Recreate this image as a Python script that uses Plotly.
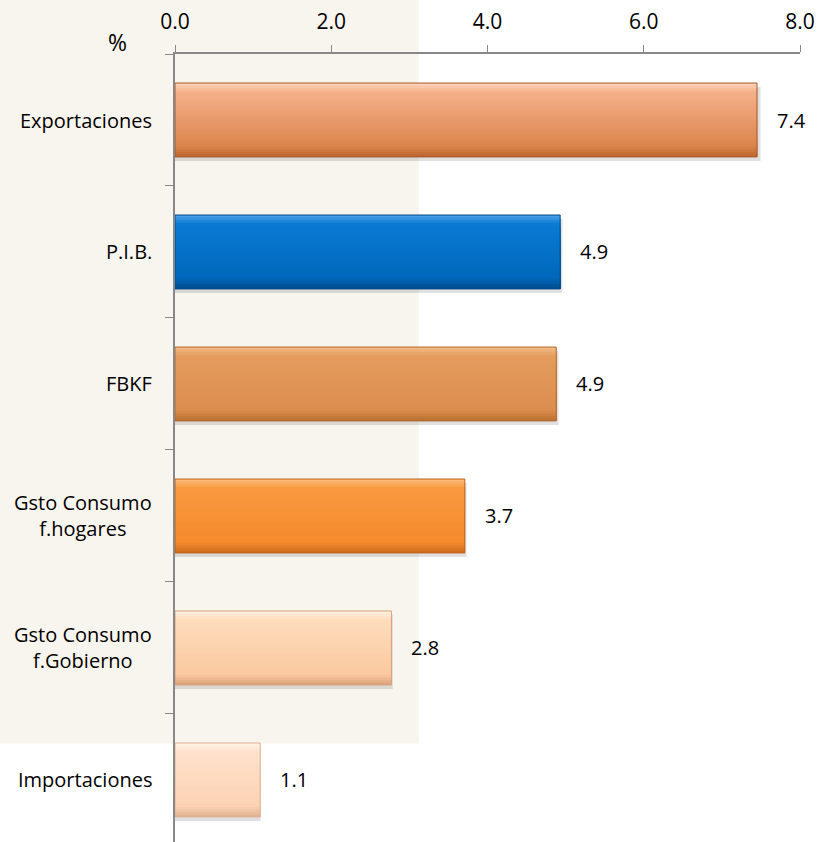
import plotly.graph_objects as go

categories = ["Exportaciones", "P.I.B.", "FBKF", "Gsto Consumo<br>f.hogares",
              "Gsto Consumo<br>f.Gobierno", "Importaciones"]
values = [7.45, 4.93, 4.88, 3.71, 2.77, 1.09]
value_labels = ["7.4", "4.9", "4.9", "3.7", "2.8", "1.1"]
x_ticks = [0, 2, 4, 6, 8]

# per-bar gradient stops (top edge, upper body, lower body, bottom edge)
stops = [
    ["#FCD6BE", "#F5B08A", "#DB844C", "#B9642C"],
    ["#4FA3EA", "#0A7AD4", "#0068BA", "#004C8C"],
    ["#F2BC86", "#E59C5E", "#DB8D4E", "#B8702E"],
    ["#FDBE80", "#F99A40", "#F48A2C", "#C86A1A"],
    ["#FFF0E2", "#FDDCBC", "#FBC9A0", "#D9A07A"],
    ["#FFF3E8", "#FEE2CB", "#FCD2B4", "#DDB090"],
]
edge_cols = ["#A85A2A", "#004A88", "#B56A30", "#BF6118", "#D9A07A", "#DDB090"]
stop_pos = [0.0, 0.12, 0.86, 1.0]

BAR_W = 0.56
N = 30


def hex2rgb(h):
    h = h.lstrip("#")
    return [int(h[i:i + 2], 16) for i in (0, 2, 4)]


def mix(a, b, t):
    ra, rb = hex2rgb(a), hex2rgb(b)
    return "rgb(%d,%d,%d)" % tuple(round(ra[k] + (rb[k] - ra[k]) * t) for k in range(3))


def grad(i, f):
    for k in range(len(stop_pos) - 1):
        if f <= stop_pos[k + 1]:
            t = (f - stop_pos[k]) / (stop_pos[k + 1] - stop_pos[k])
            return mix(stops[i][k], stops[i][k + 1], t)
    return mix(stops[i][-1], stops[i][-1], 0)


fig = go.Figure()

# soft shadow
fig.add_trace(go.Bar(
    y=categories, x=[v * 1.006 for v in values], orientation="h",
    width=BAR_W, offset=-BAR_W / 2 + 0.03,
    marker=dict(color="rgba(0,0,0,0.12)", line=dict(width=0)),
    hoverinfo="skip", showlegend=False))

# gradient strips (each strip extends to the bar bottom, later ones overlap)
for s in range(N):
    f = (s + 0.5) / N
    start = s * BAR_W / N
    fig.add_trace(go.Bar(
        y=categories, x=values, orientation="h",
        width=BAR_W - start, offset=-BAR_W / 2 + start,
        marker=dict(color=[grad(i, f) for i in range(len(values))], line=dict(width=0)),
        hoverinfo="skip", showlegend=False))

# outline
fig.add_trace(go.Bar(
    y=categories, x=values, orientation="h",
    width=BAR_W, offset=-BAR_W / 2,
    marker=dict(color="rgba(0,0,0,0)", line=dict(color=edge_cols, width=1)),
    showlegend=False))

FONT = "'Open Sans', Lato, sans-serif"

# value labels
for c, v, t in zip(categories, values, value_labels):
    fig.add_annotation(x=v, y=c, text=t, showarrow=False, xanchor="left",
                       xshift=18, font=dict(size=20, color="#000000", family=FONT))

# category labels
for c in categories:
    fig.add_annotation(x=0, xref="paper", y=c, text=c, showarrow=False,
                       xanchor="right", align="center", xshift=-21,
                       font=dict(size=20, color="#000000", family=FONT))

fig.add_annotation(x=0, xref="paper", y=1, yref="paper", text="%", showarrow=False,
                   xanchor="center", yanchor="middle", xshift=-58, yshift=12,
                   font=dict(size=23, color="#000000", family=FONT))

# faint watermark tint
fig.add_shape(type="rect", xref="paper", yref="paper", x0=-0.3, x1=0.39, y0=0.125, y1=1.07,
              fillcolor="#F8F5EE", line=dict(width=0), layer="below")

fig.update_layout(
    width=819, height=842,
    margin=dict(l=175, r=19, t=54, b=0),
    paper_bgcolor="white", plot_bgcolor="rgba(0,0,0,0)",
    barmode="overlay",
    font=dict(family=FONT, size=20, color="#000000"),
    xaxis=dict(side="top", range=[0, 8], tickvals=x_ticks, tickformat=".1f",
               showgrid=False, zeroline=False, showline=True, linecolor="#888888",
               linewidth=1.5, ticks="outside", ticklen=7, tickcolor="#888888",
               ticklabelstandoff=8, tickfont=dict(size=21)),
    yaxis=dict(type="category", categoryorder="array", categoryarray=categories,
               range=[5.47, -0.5], showgrid=False, zeroline=False, showline=True,
               linecolor="#888888", linewidth=1.5, ticks="outside", ticklen=8,
               tickcolor="#888888", tickson="boundaries", showticklabels=False),
)

fig.write_html("out.html")
